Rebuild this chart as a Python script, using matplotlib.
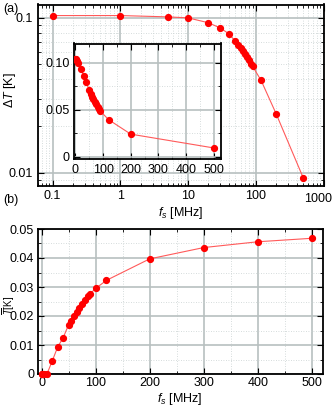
import matplotlib
matplotlib.use("Agg")
import matplotlib.pyplot as plt
from matplotlib.ticker import LogLocator, FixedLocator, MultipleLocator, NullFormatter, FixedFormatter

plt.rcParams['font.family'] = ['Liberation Sans', 'DejaVu Sans']
plt.rcParams['font.size'] = 9
plt.rcParams['mathtext.fontset'] = 'custom'
plt.rcParams['mathtext.rm'] = 'Liberation Sans'
plt.rcParams['mathtext.it'] = 'Liberation Sans:italic'

# Data
f_top = [0.1, 1, 5, 10, 20, 30, 40, 50, 55, 60, 65, 70, 75, 80, 85, 90, 120, 200, 500]
dT_top = [0.1035, 0.1035, 0.1015, 0.100, 0.093, 0.086, 0.079, 0.0706, 0.0672, 0.064,
          0.061, 0.0582, 0.0558, 0.0532, 0.0504, 0.0486, 0.0394, 0.024, 0.0093]
f_bot = [0.1, 1, 5, 10, 20, 30, 40, 50, 55, 60, 65, 70, 75, 80, 85, 90, 100, 120, 200, 300, 400, 500]
Tbar_bot = [0, 0, 0, 0, 0.0046, 0.0094, 0.0125, 0.017, 0.0184, 0.020, 0.0215, 0.0229,
            0.0241, 0.0254, 0.0268, 0.0277, 0.0295, 0.0323, 0.0397, 0.0436, 0.0456, 0.0468]
top_xticks = [0.1, 1, 10, 100, 1000]
top_xlabels = ['0.1', '1', '10', '100', '1000']

W, H = 335, 408
fig = plt.figure(figsize=(W / 100, H / 100), dpi=100)

line_kw = dict(color='#ff5a5a', lw=0.8, marker='o', ms=4.2, mfc='#ff0000', mec='#ff0000', zorder=3)
major_grid = dict(color='#b8c0c0', lw=1.2, ls='-')
minor_grid = dict(color='#c8d0d0', lw=0.6, ls=(0, (1, 2)))


def style(ax, pad=3):
    ax.tick_params(which='both', direction='in', top=True, right=True, labelsize=9, pad=pad)
    ax.tick_params(which='major', length=4, width=0.8)
    ax.tick_params(which='minor', length=2, width=0.6)
    for s in ax.spines.values():
        s.set_linewidth(1.3)
    ax.grid(True, which='major', **major_grid)
    ax.grid(True, which='minor', **minor_grid)
    ax.set_axisbelow(True)


# Top panel (log-log)
ax1 = fig.add_axes([37.5 / W, 1 - 186 / H, (323.5 - 37.5) / W, (186 - 4.5) / H])
ax1.plot(f_top, dT_top, **line_kw)
ax1.set_xscale('log')
ax1.set_yscale('log')
ax1.set_xlim(0.06, 1000)
ax1.set_ylim(0.0082, 0.122)
ax1.xaxis.set_major_locator(FixedLocator(top_xticks))
ax1.xaxis.set_major_formatter(FixedFormatter(top_xlabels[:-1] + ['']))
ax1.xaxis.set_minor_locator(LogLocator(base=10, subs=range(2, 10), numticks=20))
ax1.xaxis.set_minor_formatter(NullFormatter())
ax1.yaxis.set_major_locator(FixedLocator([0.01, 0.1]))
ax1.yaxis.set_major_formatter(FixedFormatter(['0.01', '0.1']))
ax1.yaxis.set_minor_locator(LogLocator(base=10, subs=range(2, 10), numticks=20))
ax1.yaxis.set_minor_formatter(NullFormatter())
style(ax1)
ax1.annotate(top_xlabels[-1], xy=(top_xticks[-1], 0), xycoords=('data', 'axes fraction'),
             xytext=(-4, -5.2), textcoords='offset points', ha='center', va='top', fontsize=9)
ax1.set_ylabel(r'$\Delta T$ [K]')
ax1.yaxis.set_label_coords(-0.068, 0.53)
ax1.set_xlabel(r'$f_s$ [MHz]', labelpad=2)

# Inset
axi = fig.add_axes([74 / W, 1 - 159.5 / H, (220.7 - 74) / W, (159.5 - 43.5) / H])
axi.set_facecolor('white')
axi.plot(f_top, dT_top, **line_kw)
axi.set_xlim(-5, 525)
axi.set_ylim(-0.003, 0.1205)
axi.xaxis.set_major_locator(MultipleLocator(100))
axi.xaxis.set_minor_locator(MultipleLocator(50))
axi.yaxis.set_major_locator(FixedLocator([0, 0.05, 0.10]))
axi.yaxis.set_major_formatter(FixedFormatter(['0', '0.05', '0.10']))
axi.yaxis.set_minor_locator(FixedLocator([0.025, 0.075]))
style(axi)

# Bottom panel
ax2 = fig.add_axes([37.5 / W, 1 - 374 / H, (322.7 - 37.5) / W, (374 - 229) / H])
ax2.plot(f_bot, Tbar_bot, **line_kw)
ax2.set_xlim(-7.5, 520)
ax2.set_ylim(0, 0.05)
ax2.xaxis.set_major_locator(MultipleLocator(100))
ax2.xaxis.set_minor_locator(MultipleLocator(50))
ax2.yaxis.set_major_locator(FixedLocator([0, 0.01, 0.02, 0.03, 0.04, 0.05]))
ax2.yaxis.set_major_formatter(FixedFormatter(['0', '0.01', '0.02', '0.03', '0.04', '0.05']))
ax2.yaxis.set_minor_locator(MultipleLocator(0.005))
style(ax2, pad=2.5)
ax2.lines[0].set_clip_on(False)
ax2.set_xlabel(r'$f_s$ [MHz]', labelpad=1)

fig.text(3 / W, 1 - 9 / H, '(a)', fontsize=9, va='center', ha='left')
fig.text(3 / W, 1 - 200 / H, '(b)', fontsize=9, va='center', ha='left')

# Bottom y-label: fit it between the figure edge and the tick labels
renderer = fig.canvas.get_renderer()
fig.canvas.draw()
tl_left = min(t.get_window_extent(renderer).x0 for t in ax2.get_yticklabels() if t.get_text())
ylab = fig.text(0, 0.5, r'$\overline{T}$[K]', rotation=90, fontsize=9, ha='left', va='center')
ax_bb = ax2.get_window_extent(renderer)
ycen = (ax_bb.y0 + ax_bb.y1) / 2 - 4
for fs in [9, 8.5, 8, 7.5, 7]:
    ylab.set_fontsize(fs)
    bb = ylab.get_window_extent(renderer)
    if bb.width <= tl_left - 2:
        break
bb = ylab.get_window_extent(renderer)
x0 = max(1, (tl_left - 1.5 - bb.width))
ylab.set_position((x0 / W, ycen / H))

fig.savefig('out.png', dpi=100)
